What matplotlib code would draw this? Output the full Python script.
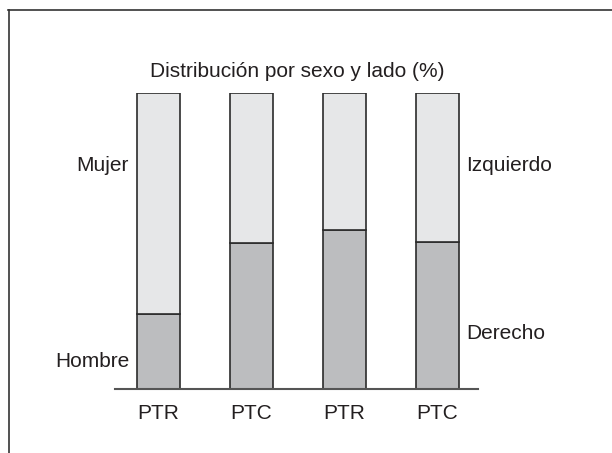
import matplotlib
matplotlib.use("Agg")
import matplotlib.pyplot as plt
from matplotlib.lines import Line2D

plt.rcParams['font.family'] = ['Liberation Sans', 'DejaVu Sans']

categories = ["PTR", "PTC", "PTR", "PTC"]
lower_values = [25.3, 49.3, 53.7, 49.7]   # Hombre / Derecho (%)
upper_values = [100 - v for v in lower_values]  # Mujer / Izquierdo (%)
title = "Distribución por sexo y lado (%)"

fig = plt.figure(figsize=(6.12, 4.53), dpi=100)
ax = fig.add_axes([115/612, 1-389/453, (478-115)/612, (389-93)/453])

x = list(range(len(categories)))
w = 0.462
edge = "#2b2b2b"
ax.bar(x, lower_values, width=w, color="#bcbdbf", edgecolor=edge, linewidth=1.2)
ax.bar(x, upper_values, width=w, bottom=lower_values, color="#e6e7e8", edgecolor=edge, linewidth=1.2)

ax.set_xlim(-0.468, 3.44)
ax.set_ylim(0, 100)
for s in ["top", "right", "left"]:
    ax.spines[s].set_visible(False)
ax.spines["bottom"].set_color("#555555")
ax.spines["bottom"].set_linewidth(1.5)
ax.set_yticks([])
ax.set_xticks(x)
ax.set_xticklabels(categories, fontsize=15, color="#231f20")
ax.tick_params(axis="x", length=0, pad=10.5)

tc = "#231f20"
fs = 15
ax.text(-0.317, 73.8, "Mujer", ha="right", va="baseline", fontsize=fs, color=tc)
ax.text(-0.317, 7.5, "Hombre", ha="right", va="baseline", fontsize=fs, color=tc)
ax.text(3.317, 73.6, "Izquierdo", ha="left", va="baseline", fontsize=fs, color=tc)
ax.text(3.317, 16.8, "Derecho", ha="left", va="baseline", fontsize=fs, color=tc)

fig.text(297/612, 1-77/453, title, ha="center", va="baseline", fontsize=fs, color=tc)

fig.add_artist(Line2D([8/612, 1], [1-9.5/453, 1-9.5/453], transform=fig.transFigure, color="#333333", linewidth=1.2))
fig.add_artist(Line2D([9.3/612, 9.3/612], [0, 1-9.5/453], transform=fig.transFigure, color="#333333", linewidth=1.2))

fig.savefig("out.png", dpi=100)
